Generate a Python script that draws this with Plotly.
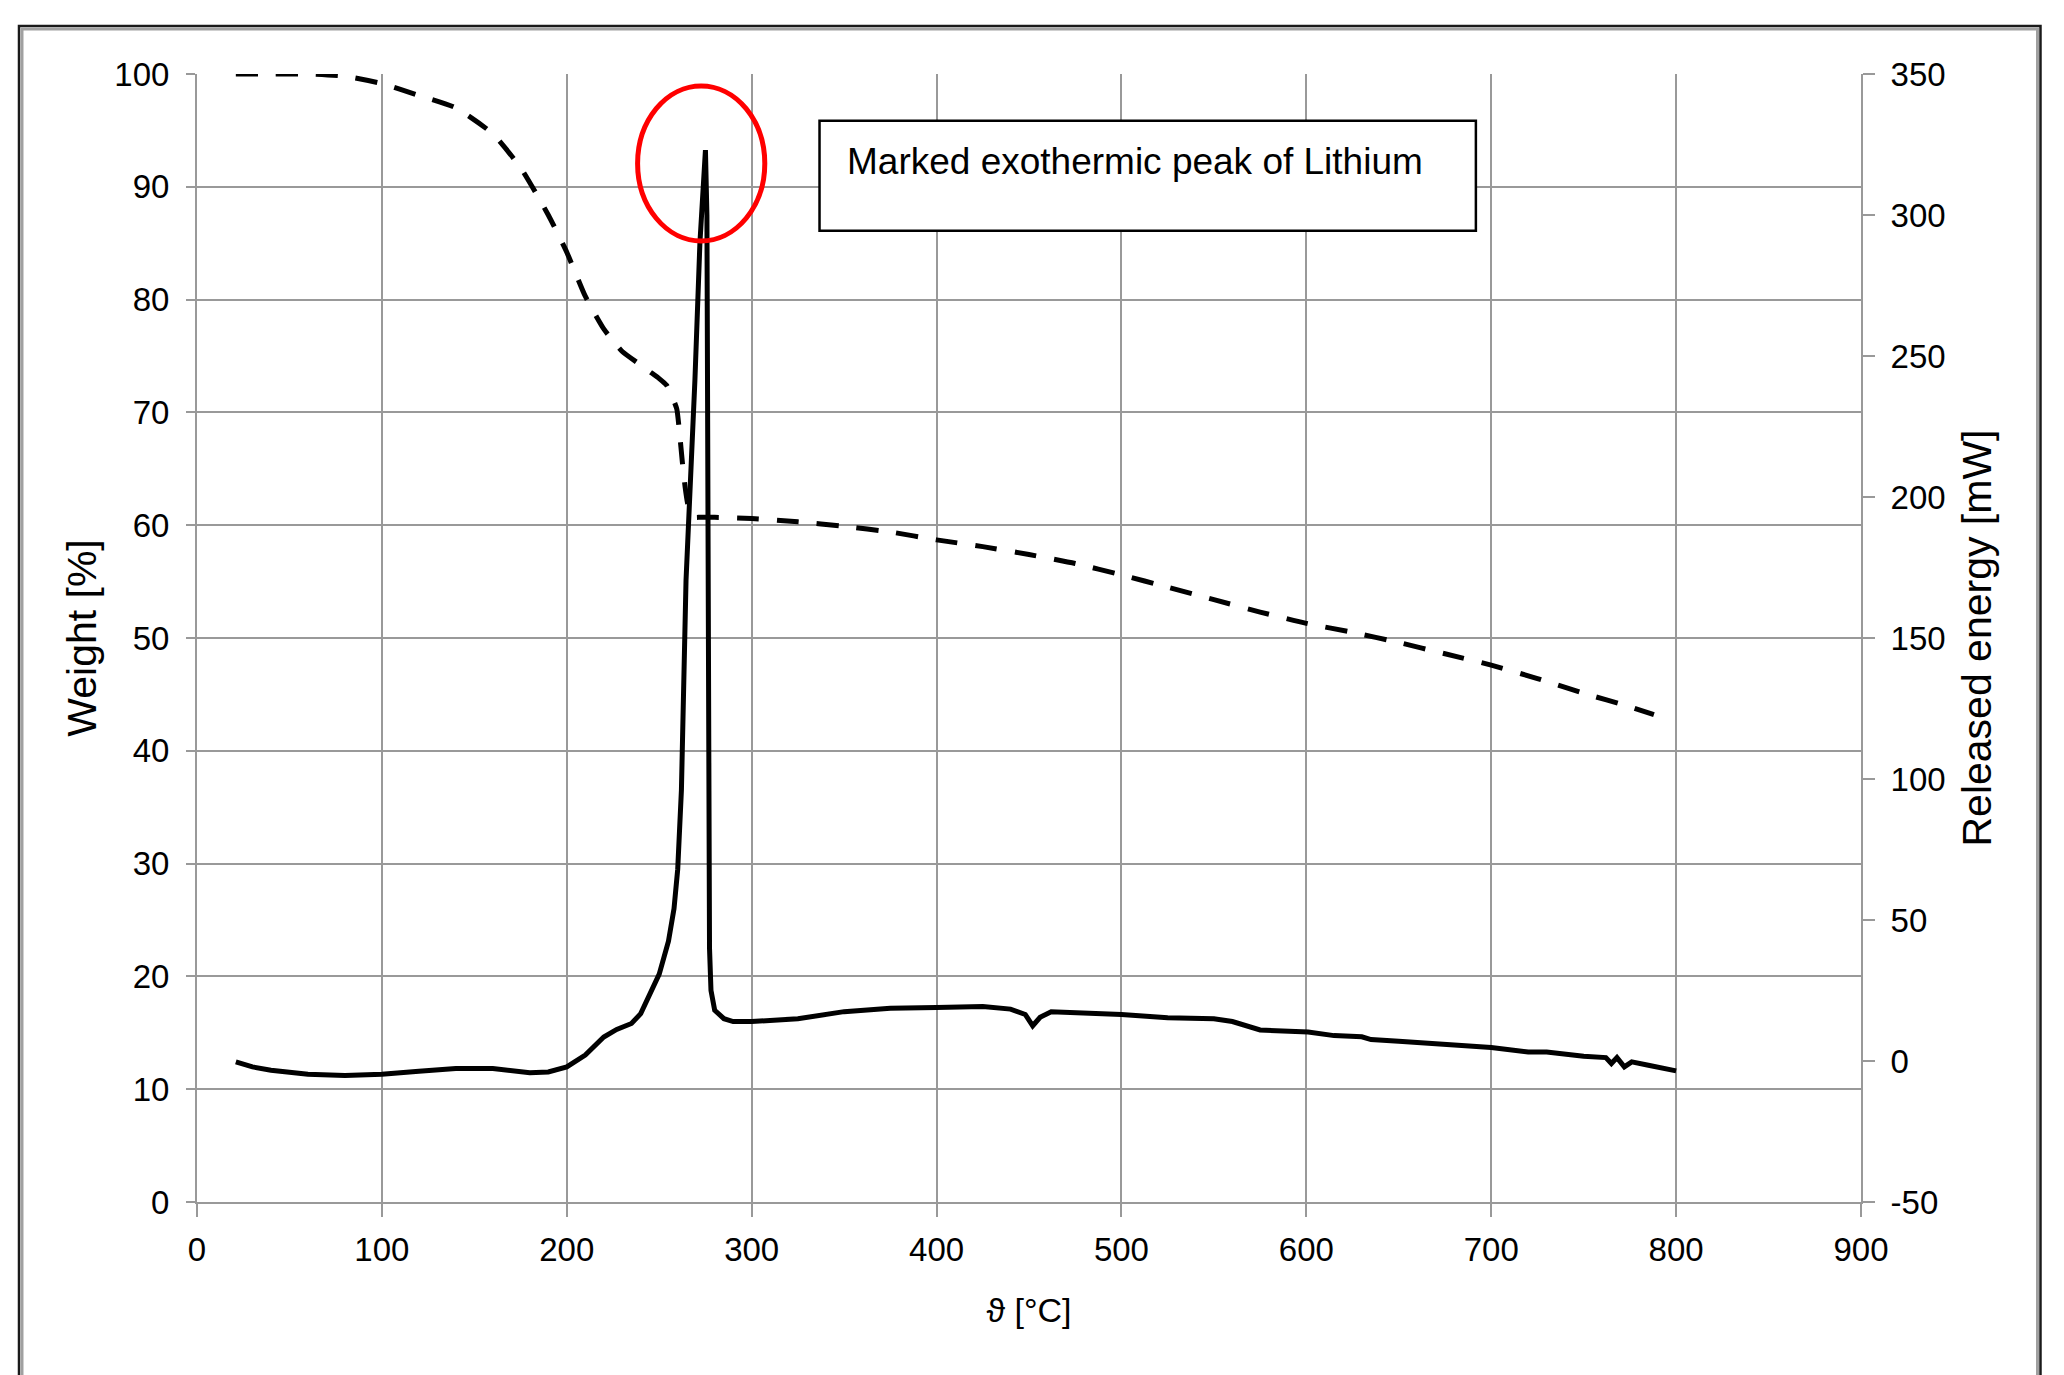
import plotly.graph_objects as go

# ---------------- data ----------------
# TG curve (weight, %) - dashed, left axis
tg_temp = [21, 40, 60, 80, 100, 120, 140, 160, 175, 190, 200, 210, 220, 230, 240,
           245, 250, 254, 257, 259.5, 261, 262.5, 264, 265.5, 267, 269, 272, 280,
           300, 325, 350, 375, 400, 425, 450, 475, 500, 525, 550, 575, 600, 625,
           650, 675, 700, 725, 750, 775, 788]
tg_weight = [100, 100, 100, 99.8, 99.15, 98.1, 97.0, 94.7, 91.7, 87.5, 84.2, 80.3,
             77.4, 75.4, 74.2, 73.6, 73.0, 72.4, 71.4, 70.3, 68.2, 65.6, 63.4, 61.8,
             61.0, 60.7, 60.7, 60.7, 60.6, 60.3, 59.9, 59.4, 58.7, 58.1, 57.4, 56.6,
             55.6, 54.5, 53.4, 52.3, 51.3, 50.5, 49.6, 48.6, 47.6, 46.4, 45.1, 43.9,
             43.2]

# DSC curve (released energy, mW) - solid, right axis
dsc_temp = [21, 30, 40, 60, 80, 100, 120, 140, 160, 170, 180, 190, 200, 210, 220,
            227, 235, 240, 245, 250, 255, 258, 260, 262, 264.5, 267, 269.3, 272, 274,
            275, 275.8, 276, 276.3, 276.6, 277.2, 278, 280, 285, 290, 300, 325, 350,
            375, 400, 425, 440, 448, 452, 456, 462, 475, 500, 525, 550, 560, 575,
            601, 615, 630, 635, 650, 675, 700, 720, 730, 750, 762, 765, 768, 772,
            776, 785, 800]
dsc_power = [-0.3, -2.1, -3.3, -4.7, -5.1, -4.7, -3.6, -2.7, -2.7, -3.5, -4.2, -3.9,
             -2.1, 2.1, 8.5, 11.2, 13.3, 16.8, 23.8, 30.8, 42.5, 54.0, 68.0, 96.0,
             170.5, 205.0, 241.4, 290.0, 318.0, 323.0, 300.0, 240.0, 170.0, 100.0,
             40.0, 25.0, 18.0, 15.0, 14.0, 14.0, 15.0, 17.5, 18.7, 19.0, 19.3, 18.4,
             16.5, 12.5, 15.5, 17.5, 17.2, 16.5, 15.3, 15.0, 14.0, 11.0, 10.3, 9.0,
             8.6, 7.6, 7.0, 6.0, 4.8, 3.2, 3.2, 1.7, 1.2, -0.9, 1.2, -2.1, -0.3, -1.5,
             -3.5]

x_ticks = [0, 100, 200, 300, 400, 500, 600, 700, 800, 900]
y1_ticks = [0, 10, 20, 30, 40, 50, 60, 70, 80, 90, 100]
y2_ticks = [-50, 0, 50, 100, 150, 200, 250, 300, 350]
y2_ticktext = ["-50", "0", "50", "100", "150", "200", "250", "300", "350"]

annotation_text = "Marked exothermic peak of Lithium"

# ---------------- figure ----------------
FONT = "Liberation Sans, Arial, sans-serif"
GRID = "#999999"

fig = go.Figure()

fig.add_trace(go.Scatter(
    x=tg_temp, y=tg_weight, mode="lines", yaxis="y",
    line=dict(color="black", width=5, dash="22px,18px", shape="spline", smoothing=0.5),
    showlegend=False, hoverinfo="skip"))

fig.add_trace(go.Scatter(
    x=dsc_temp, y=dsc_power, mode="lines", yaxis="y2",
    line=dict(color="black", width=5),
    showlegend=False, hoverinfo="skip"))

# red ellipse around the peak
fig.add_shape(type="circle", xref="x", yref="y",
              x0=238.3, x1=307.1, y0=85.2, y1=98.94,
              line=dict(color="#ff0000", width=5), layer="above")

# annotation box
fig.add_shape(type="rect", xref="x", yref="y",
              x0=336.7, x1=691.7, y0=86.11, y1=95.86,
              line=dict(color="black", width=2.5), fillcolor="white", layer="above")

fig.add_annotation(x=350.5, y=92.2, xref="x", yref="y", text=annotation_text,
                   showarrow=False, xanchor="left", yanchor="middle",
                   font=dict(family=FONT, size=37, color="black"))

# outer frame (dark line with grey inner shadow)
fig.add_shape(type="rect", xref="paper", yref="paper",
              x0=-0.10697, x1=1.10787, y0=-0.17, y1=1.04255,
              line=dict(color="#1a1a1a", width=2.5), layer="above")
fig.add_shape(type="rect", xref="paper", yref="paper",
              x0=-0.10517, x1=1.10607, y0=-0.17, y1=1.03989,
              line=dict(color="#a0a0a0", width=3), layer="above")

axis_common = dict(
    showgrid=True, gridcolor=GRID, gridwidth=2,
    showline=True, linecolor=GRID, linewidth=2,
    ticks="outside", tickcolor=GRID, tickwidth=2,
    tickfont=dict(family=FONT, size=33, color="black"),
    zeroline=False,
)

fig.update_layout(
    width=2064, height=1375,
    margin=dict(l=197, r=203, t=74, b=173, autoexpand=False),
    paper_bgcolor="white", plot_bgcolor="white",
    font=dict(family=FONT, color="black"),
    xaxis=dict(range=[0, 900], tickvals=x_ticks, ticklen=13, ticklabelstandoff=4,
               title=dict(text="ϑ [°C]", font=dict(family=FONT, size=34), standoff=32),
               **axis_common),
    yaxis=dict(range=[0, 100], tickvals=y1_ticks, ticklen=9, ticklabelstandoff=10,
               title=dict(text="Weight [%]", font=dict(family=FONT, size=41), standoff=5),
               **axis_common),
    yaxis2=dict(range=[-50, 350], tickvals=y2_ticks, ticktext=y2_ticktext,
                overlaying="y", side="right",
                showgrid=False, showline=True, linecolor=GRID, linewidth=2,
                ticks="outside", tickcolor=GRID, tickwidth=2, ticklen=12,
                ticklabelstandoff=9,
                tickfont=dict(family=FONT, size=33, color="black"), zeroline=False,
                title=dict(text="Released energy [mW]", font=dict(family=FONT, size=41),
                           standoff=18)),
)

fig.write_html("out.html")
